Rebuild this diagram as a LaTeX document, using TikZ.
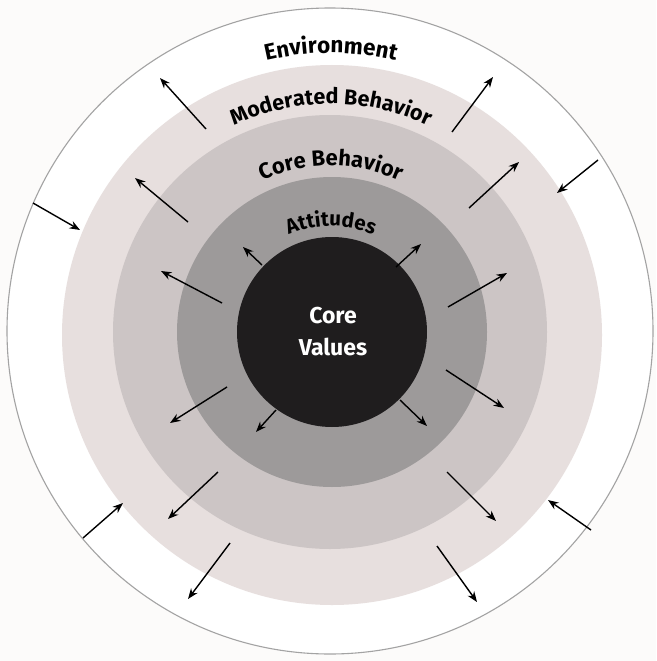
\documentclass[tikz,border=0pt]{standalone}
\usepackage{fontspec}
\setmainfont{Fira Sans}
\usetikzlibrary{arrows.meta,decorations.text}

\definecolor{paper}{HTML}{FCFBFA}
\definecolor{ringmod}{HTML}{E7DFDE}
\definecolor{ringcore}{HTML}{CCC5C5}
\definecolor{ringatt}{HTML}{9D9A9A}
\definecolor{ringval}{HTML}{1F1D1E}
\definecolor{rimline}{HTML}{A3A3A3}

\tikzset{
  flow/.style={line width=1.4pt, -{Stealth[length=10.5pt,width=8pt]}},
}

% label set along the top of a circle of radius #1 around the common centre
\newcommand\ringlabel[3]{%
  \path[decorate, decoration={text along path, text align=center,
        text={|\bfseries\fontsize{#2}{#2}\selectfont|#3}}]
    (331,333) ++(200:#1) arc[start angle=200, end angle=340, radius=#1];}

\begin{document}
\begin{tikzpicture}[x=1pt, y=-1pt]
  \useasboundingbox (0,0) rectangle (656,661);
  \fill[paper] (0,0) rectangle (656,661);

  % concentric rings
  \filldraw[fill=white, draw=rimline, line width=1.1pt] (330,331) circle[radius=323];
  \fill[ringmod]  (332,335) circle[radius=270];
  \fill[ringcore] (330,332) circle[radius=217];
  \fill[ringatt]  (332,332) circle[radius=155];
  \fill[ringval]  (332,332) circle[radius=95];

  % ring labels
  \ringlabel{280}{22.5}{Environment}
  \ringlabel{229}{21.5}{Moderated Behavior}
  \ringlabel{167}{22}{Core Behavior}
  \ringlabel{107}{20.5}{Attitudes}

  \node[text=white, font=\bfseries\fontsize{23}{32}\selectfont, align=center]
    (values) at (333,332) {Core\\Values};

  % arrow end points
  \coordinate (t1) at (206,129);  \coordinate (h1) at (160,78);
  \coordinate (t2) at (452,132);  \coordinate (h2) at (493,77);
  \coordinate (t3) at (598,160);  \coordinate (h3) at (557,193);
  \coordinate (t4) at (33,203);   \coordinate (h4) at (80,230);
  \coordinate (t5) at (188,222);  \coordinate (h5) at (135,178);
  \coordinate (t6) at (469,208);  \coordinate (h6) at (519,162);
  \coordinate (t7) at (222,303);  \coordinate (h7) at (161,271);
  \coordinate (t8) at (262,265);  \coordinate (h8) at (243,247);
  \coordinate (t9) at (396,267);  \coordinate (h9) at (421,244);
  \coordinate (t10) at (448,307); \coordinate (h10) at (507,273);
  \coordinate (t11) at (446,370); \coordinate (h11) at (504,408);
  \coordinate (t12) at (400,400); \coordinate (h12) at (427,426);
  \coordinate (t13) at (276,410); \coordinate (h13) at (256,432);
  \coordinate (t14) at (227,387); \coordinate (h14) at (170,423);
  \coordinate (t15) at (218,472); \coordinate (h15) at (168,519);
  \coordinate (t16) at (230,543); \coordinate (h16) at (188,599);
  \coordinate (t17) at (83,538);  \coordinate (h17) at (123,503);
  \coordinate (t18) at (447,472); \coordinate (h18) at (496,521);
  \coordinate (t19) at (437,546); \coordinate (h19) at (477,602);
  \coordinate (t20) at (591,530); \coordinate (h20) at (548,500);

  \foreach \i in {1,...,20}
    \draw[flow] (t\i) -- (h\i);
\end{tikzpicture}
\end{document}
